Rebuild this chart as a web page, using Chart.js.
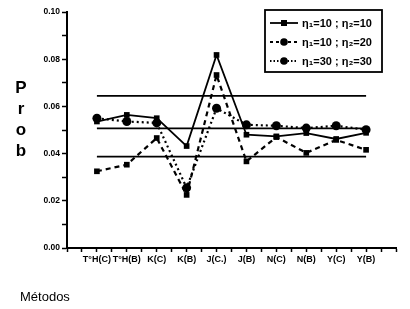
<!DOCTYPE html>
<html><head><meta charset="utf-8">
<script src="https://cdn.jsdelivr.net/npm/chart.js@4/dist/chart.umd.min.js"></script>
<style>html,body{margin:0;padding:0;background:#fff;}#wrap{width:410px;height:309px;position:relative;}</style>
</head><body><div id="wrap"><canvas id="c" width="410" height="309"></canvas></div>
<script>
const categories = ["T°H(C)","T°H(B)","K(C)","K(B)","J(C.)","J(B)","N(C)","N(B)","Y(C)","Y(B)"];
const seriesNames = ["η₁=10 ; η₂=10","η₁=10 ; η₂=20","η₁=30 ; η₂=30"];
const s1010 = [0.0536,0.0564,0.0550,0.0432,0.0818,0.0480,0.0473,0.0487,0.0462,0.0488];
const s1020 = [0.0325,0.0353,0.0466,0.0225,0.0733,0.0367,0.0470,0.0403,0.0458,0.0416];
const s3030 = [0.0550,0.0536,0.0530,0.0255,0.0592,0.0522,0.0518,0.0508,0.0518,0.0501];
const refLines = [0.0645,0.0507,0.0387];
const yTickLabels = ["0.00","0.02","0.04","0.06","0.08","0.10"];
const yTitle = "Prob";
const xTitle = "Métodos";

const toPts = arr => arr.map((v,i)=>({x:i,y:v}));
const styles = [
  {dash:[], width:1.8, point:'rect', radius:4},
  {dash:[5,4], width:2.2, point:'rect', radius:4},
  {dash:[2,3], width:2.2, point:'circle', radius:4.5}
];
const seriesData = [s1010,s1020,s3030];
const datasets = seriesData.map((arr,k)=>({
  label: seriesNames[k], data: toPts(arr), borderColor:'#000', backgroundColor:'#000',
  borderWidth: styles[k].width, borderDash: styles[k].dash, pointStyle: styles[k].point,
  pointRadius: styles[k].radius, pointBorderWidth:0, tension:0, fill:false
}));
refLines.forEach(v=>datasets.push({label:'ref', data:[{x:0,y:v},{x:categories.length-1,y:v}],
  borderColor:'#000', borderWidth:1.8, pointRadius:0, fill:false}));

const FONT = "'Liberation Sans', Arial, sans-serif";
const deco = {
  id:'deco',
  afterDraw(chart){
    const ctx = chart.ctx;
    ctx.save();
    ctx.fillStyle='#000'; ctx.font = "bold 17px "+FONT; ctx.textAlign='center'; ctx.textBaseline='middle';
    yTitle.split('').forEach((ch,i)=>ctx.fillText(ch, 21, 88 + i*21));
    ctx.font = "13px "+FONT; ctx.textAlign='left';
    ctx.fillText(xTitle, 20, 297);
    const lx = 265, ly = 10, lw = 117, lh = 62;
    ctx.lineWidth = 1.8; ctx.strokeStyle='#000'; ctx.setLineDash([]);
    ctx.strokeRect(lx, ly, lw, lh);
    ctx.font = "bold 11px "+FONT; ctx.textBaseline='middle';
    seriesNames.forEach((name,k)=>{
      const y = ly + 13 + k*19;
      ctx.setLineDash(k===0 ? [] : (k===1?[3,3]:[1.5,2]));
      ctx.lineWidth = styles[k].width;
      ctx.beginPath(); ctx.moveTo(lx+5, y); ctx.lineTo(lx+33, y); ctx.stroke();
      ctx.setLineDash([]);
      ctx.beginPath();
      if(k===0){ ctx.fillRect(lx+16, y-3, 6, 6); }
      else { ctx.arc(lx+19, y, 3.8, 0, Math.PI*2); ctx.fill(); }
      ctx.fillText(name, lx+37, y+1);
    });
    ctx.restore();
  }
};

new Chart(document.getElementById('c'), {
  type:'line',
  data:{datasets},
  options:{
    responsive:false, animation:false, devicePixelRatio:1,
    layout:{padding:{left:0, top:12, right:14, bottom:0}},
    plugins:{legend:{display:false}, tooltip:{enabled:false}},
    scales:{
      x:{type:'linear', min:-1, max:categories.length,
        afterFit(s){ s.height = 61; },
        border:{display:true, color:'#000', width:2},
        grid:{drawOnChartArea:false, drawTicks:true, tickLength:4, color:'#000', tickWidth:1.5},
        ticks:{stepSize:0.5, autoSkip:false, maxRotation:0, color:'#000', padding:2,
          font:{family:FONT, size:9, weight:'bold'},
          callback:(v)=> (Number.isInteger(v) && v>=0 && v<categories.length) ? categories[v] : ''}
      },
      y:{min:0, max:0.10,
        afterFit(s){ s.width = 67; },
        border:{display:true, color:'#000', width:2},
        grid:{drawOnChartArea:false, drawTicks:true, tickLength:5, color:'#000', tickWidth:1.5},
        ticks:{stepSize:0.01, autoSkip:false, color:'#000', padding:2,
          font:{family:FONT, size:8.5, weight:'bold'},
          callback:(v)=>{ const i = Math.round(v*100); return i%2===0 ? yTickLabels[i/2] : ''; }}
      }
    }
  },
  plugins:[deco]
});
</script></body></html>
